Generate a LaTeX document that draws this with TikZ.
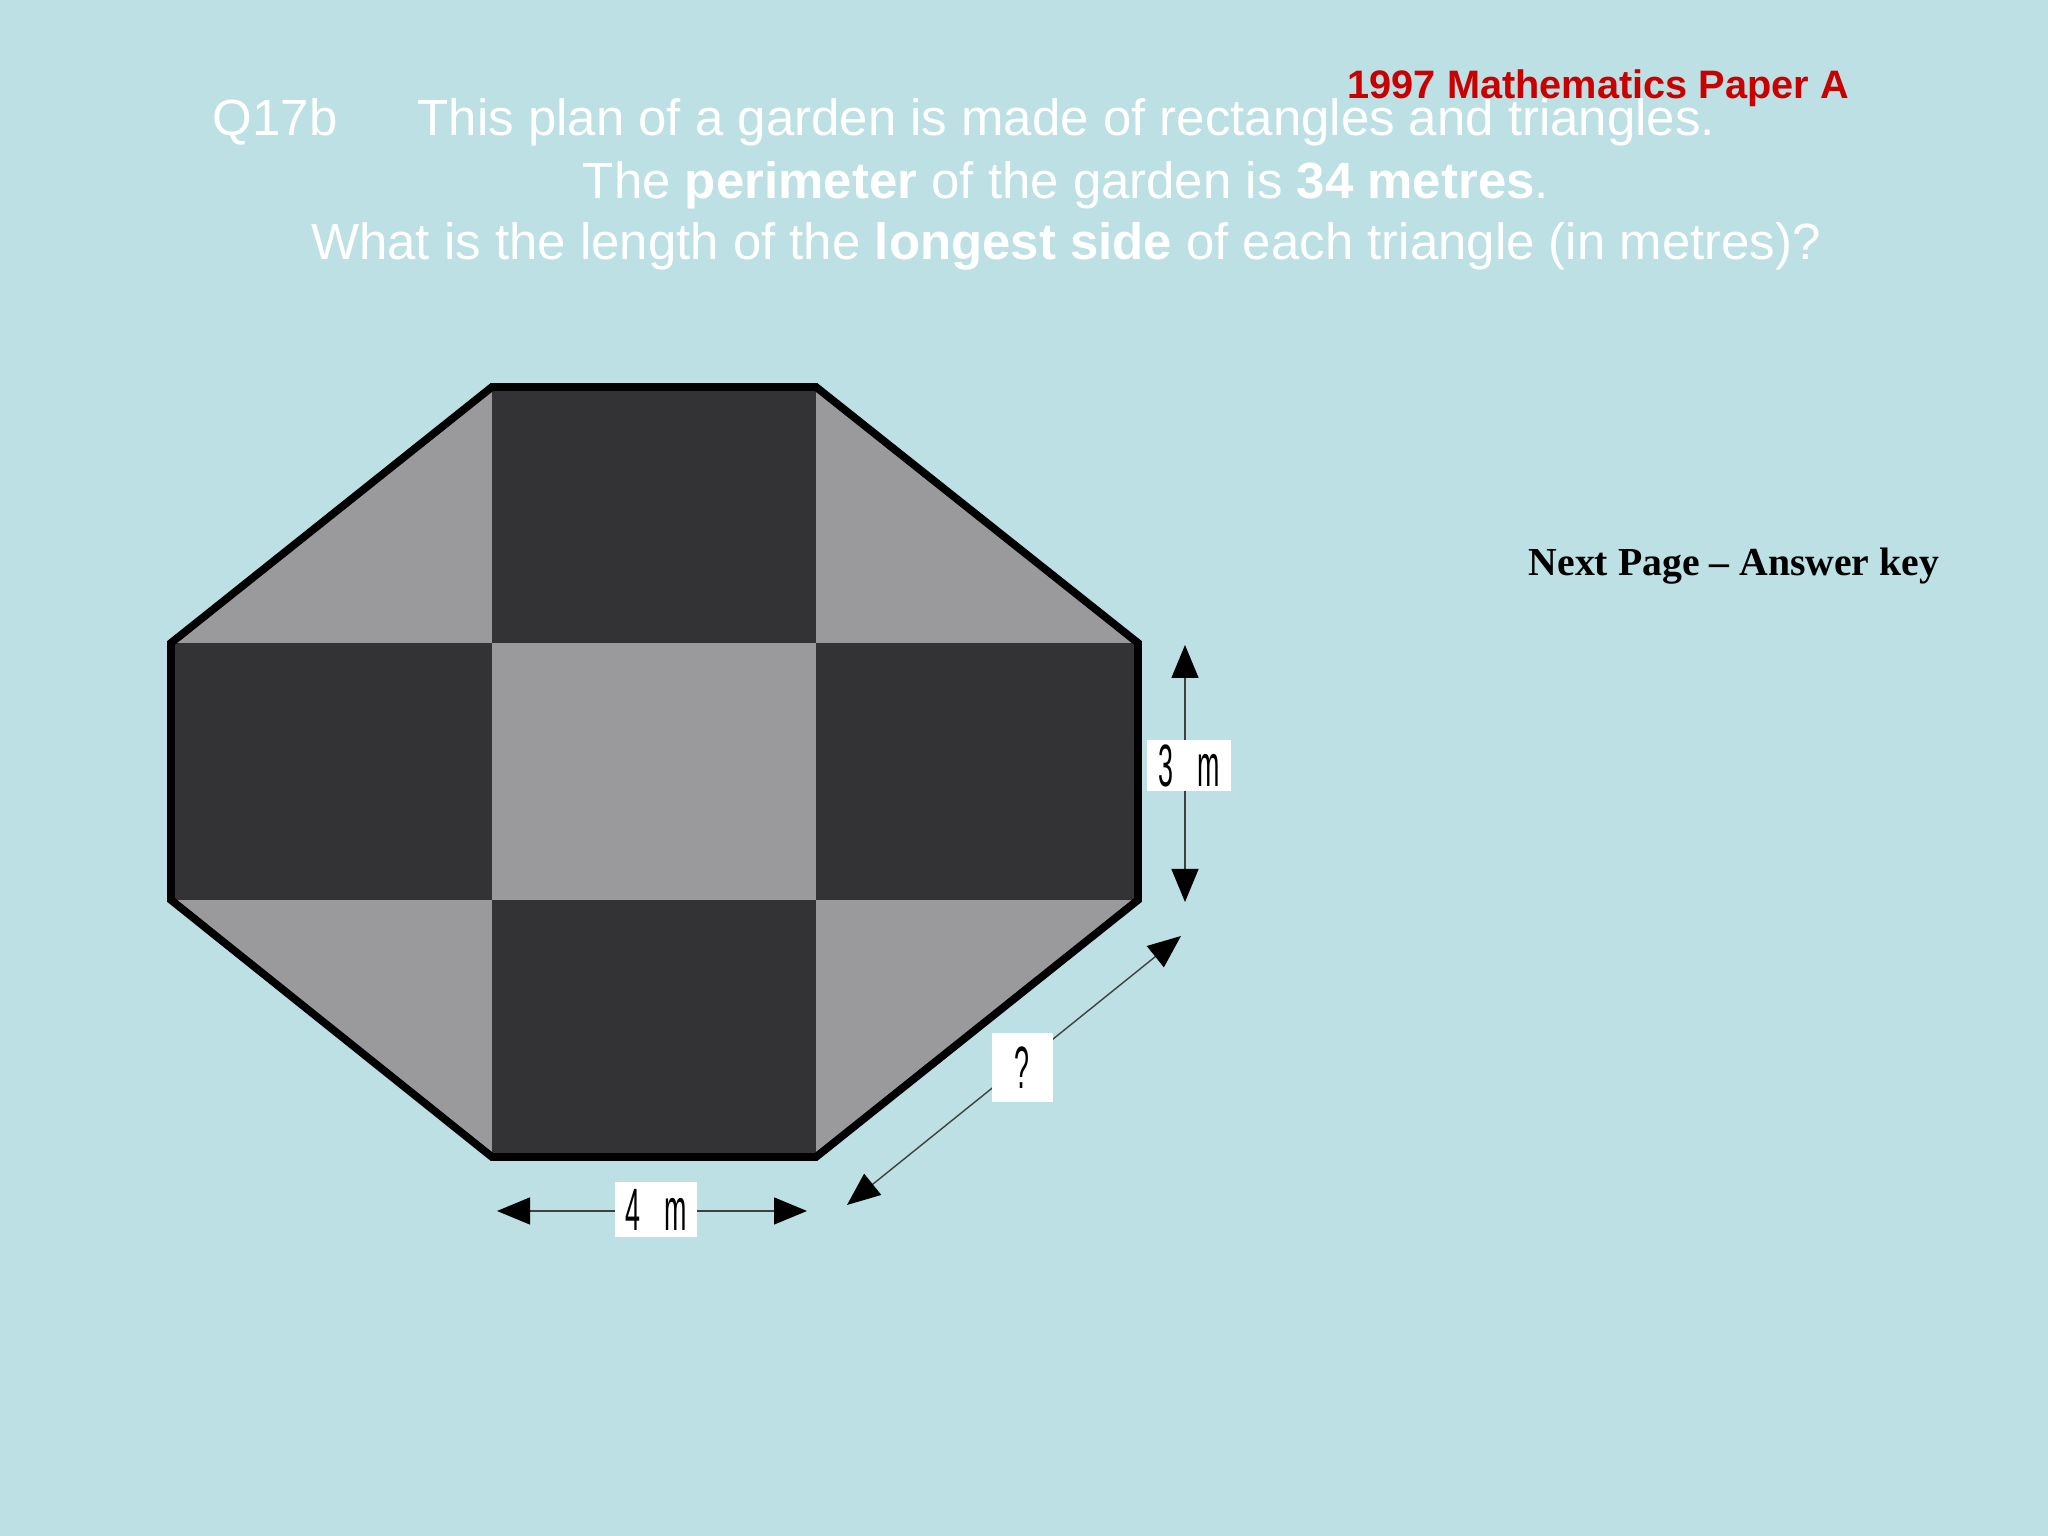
\documentclass[tikz,border=0pt]{standalone}
\usepackage{fontspec}
\setmainfont{Liberation Sans}
\newfontfamily\timesfont[Ligatures=TeX]{Liberation Serif}
\usetikzlibrary{arrows.meta}
\definecolor{slide}{RGB}{188,224,227}
\definecolor{bed}{RGB}{51,51,54}
\definecolor{lawn}{RGB}{154,153,156}
\definecolor{heading}{RGB}{200,0,0}
\tikzset{
  dimline/.style={draw=black!75, line width=0.4pt,
    {Triangle[length=3.3mm,width=2.7mm,color=black]}-{Triangle[length=3.3mm,width=2.7mm,color=black]}},
  dimlabel/.style={fill=white, inner sep=0pt, text=black},
  question/.style={text=white, font=\fontsize{14.5}{16}\selectfont, inner sep=0pt},
}
\newcommand{\narrowtxt}[1]{\scalebox{0.45}[1]{\fontsize{17}{17}\selectfont #1}}

\begin{document}
\begin{tikzpicture}
    \useasboundingbox (0,0) rectangle (20.48,15.36);
    \fill[slide] (0,0) rectangle (20.48,15.36);

    \coordinate (tl) at (4.92,11.49);
    \coordinate (tr) at (8.16,11.49);
    \coordinate (ru) at (11.38,8.93);
    \coordinate (rd) at (11.38,6.36);
    \coordinate (br) at (8.16,3.79);
    \coordinate (bl) at (4.92,3.79);
    \coordinate (ld) at (1.71,6.36);
    \coordinate (lu) at (1.71,8.93);

    \fill[lawn] (tl) -- (lu) -- (4.92,8.93) -- cycle;
    \fill[lawn] (tr) -- (ru) -- (8.16,8.93) -- cycle;
    \fill[lawn] (ld) -- (4.92,6.36) -- (bl) -- cycle;
    \fill[lawn] (rd) -- (8.16,6.36) -- (br) -- cycle;
    \fill[lawn] (4.92,6.36) rectangle (8.16,8.93);
    \fill[bed] (4.92,8.93) rectangle (tr);
    \fill[bed] (ld) rectangle (4.92,8.93);
    \fill[bed] (8.16,6.36) rectangle (ru);
    \fill[bed] (bl) rectangle (8.16,6.36);
    \draw[line width=2.2pt] (tl) -- (tr) -- (ru) -- (rd) -- (br) -- (bl) -- (ld) -- (lu) -- cycle;

    \coordinate (hs) at (11.85,8.91);
    \coordinate (he) at (11.85,6.34);
    \draw[dimline] (hs) -- (he);
    \node[dimlabel, minimum width=.84cm, minimum height=.51cm] (hlab) at (11.89,7.70) {\narrowtxt{3\hspace{.9em}m}};

    \coordinate (ws) at (4.97,3.25);
    \coordinate (we) at (8.07,3.25);
    \draw[dimline] (ws) -- (we);
    \node[dimlabel, minimum width=.82cm, minimum height=.55cm] (wlab) at (6.56,3.26) {\narrowtxt{4\hspace{.9em}m}};

    \coordinate (ss) at (11.81,6.00);
    \coordinate (se) at (8.47,3.31);
    \draw[dimline] (ss) -- (se);
    \node[dimlabel, minimum width=.61cm, minimum height=.69cm] (slab) at (10.22,4.68) {\narrowtxt{?}};

    \node[question, anchor=base west] (qnum) at (2.12,14.00) {Q17b};
    \node[question, anchor=base west] (qline1) at (4.17,14.00) {This plan of a garden is made of rectangles and triangles.};
    \node[question, anchor=base] (qline2) at (10.66,13.37) {The \textbf{perimeter} of the garden is \textbf{34 metres}.};
    \node[question, anchor=base] (qline3) at (10.66,12.76) {What is the length of the \textbf{longest side} of each triangle (in metres)?};

    \node[anchor=base west, text=heading, inner sep=0pt, font=\bfseries\fontsize{11.3}{13}\selectfont] (paper) at (13.47,14.37) {1997 Mathematics Paper A};
    \node[anchor=base west, inner sep=0pt, font=\timesfont\bfseries\fontsize{11.3}{13}\selectfont] (next) at (15.28,9.60) {Next Page \textendash{} Answer key};
\end{tikzpicture}
\end{document}
